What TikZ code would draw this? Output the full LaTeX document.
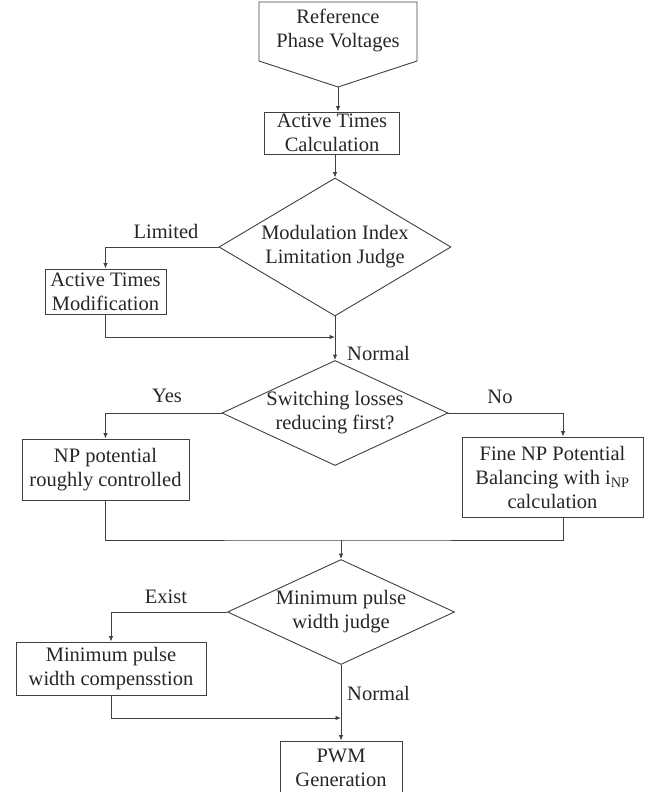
\documentclass[tikz,border=0pt]{standalone}
\usepackage{fontspec}
\setmainfont{Liberation Serif}
\usetikzlibrary{shapes.geometric,arrows.meta}

\begin{document}
\begin{tikzpicture}[x=1pt,y=-1pt,
  txt/.style={font=\fontsize{20.5}{24}\selectfont, text=black!85, align=center, inner sep=0pt},
  line/.style={draw=black!75, line width=0.9pt},
  arr/.style={line, -{Latex[length=5.5pt,width=4.5pt]}},
  box/.style 2 args={txt, line, rectangle, minimum width=#1, minimum height=#2},
  decision/.style 2 args={line, diamond, inner sep=0pt, minimum width=#1, minimum height=#2}]
\useasboundingbox (0,0) rectangle (650,792);
\clip (0,0) rectangle (650,792);

% start block
\draw[line] (259,2) -- (417,2) -- (417,61) -- (338,87) -- (259,61) -- cycle;
\coordinate (start) at (338,87);
\node[txt] (ref) at (338,30) {Reference\\Phase Voltages};

% blocks
\node[box={135}{42}] (calc) at (332,133) {Active Times\\Calculation};
\node[decision={232}{138}] (limit) at (335,247) {};
\node[txt] at (limit) {Modulation Index\\Limitation Judge};
\node[box={121}{45}] (modif) at (105.5,291.5) {Active Times\\Modification};
\node[decision={226}{105}] (loss) at (335,413) {};
\node[txt] at (loss) {Switching losses\\reducing first?};
\node[box={167}{61}] (rough) at (105.5,469.5) {NP potential\\roughly controlled};
\node[box={181}{80}] (fine) at (552.5,477) {Fine NP Potential\\Balancing with i\textsubscript{NP}\\calculation};
\node[decision={227}{105}] (pulse) at (341,612) {};
\node[txt] at (pulse) {Minimum pulse\\width judge};
\node[box={190}{53}] (comp) at (111,668.5) {Minimum pulse\\width compensstion};
\node[box={122}{53}] (pwm) at (341,767.5) {PWM\\Generation};

% connectors
\draw[arr] (start) -- (start |- calc.north);
\draw[arr] (limit.north |- calc.south) -- (limit.north);
\draw[arr] (limit.west) -| (modif.north);
\coordinate (join1) at (335,337);
\draw[arr] (modif.south) |- (join1);
\draw[arr] (limit.south) -- (loss.north);
\draw[arr] (loss.west) -| (rough.north);
\draw[arr] (loss.east) -| ([xshift=10.5pt]fine.north);
\coordinate (merge) at (341,540);
\draw[line] (rough.south) |- (merge) -| ([xshift=10.5pt]fine.south);
\draw[arr] (merge) -- (pulse.north);
\draw[arr] (pulse.west) -| (comp.north);
\coordinate (join2) at (341,718);
\draw[arr] (comp.south) |- (join2);
\draw[arr] (pulse.south) -- (pwm.north);

% labels
\node[txt] at (166,231) {Limited};
\node[txt, anchor=west] at (347,353) {Normal};
\node[txt] at (167,396) {Yes};
\node[txt] at (500,397) {No};
\node[txt] at (166,597) {Exist};
\node[txt, anchor=west] at (347,693) {Normal};
\end{tikzpicture}
\end{document}
